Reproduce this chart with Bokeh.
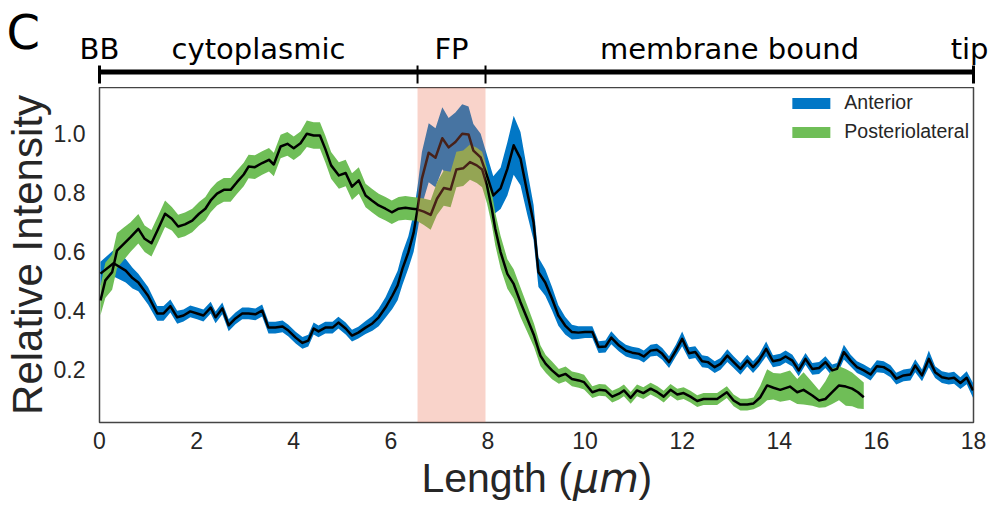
from bokeh.plotting import figure
from bokeh.models import (Range1d, BoxAnnotation, Legend, LegendItem,
                          FixedTicker, NumeralTickFormatter)
from bokeh.embed import file_html
from bokeh.resources import INLINE
from bokeh.core.properties import value

# ---------------- data ----------------
anterior_x = [0.02, 0.29, 0.54, 0.68, 0.80, 1.00, 1.19, 1.32, 1.46, 1.60, 1.73, 1.87, 2.01, 2.14,
              2.29, 2.39, 2.53, 2.66, 2.80, 2.94, 3.07, 3.21, 3.35, 3.48, 3.62, 3.77, 3.89, 4.04,
              4.18, 4.30, 4.41, 4.51, 4.65, 4.80, 4.92, 5.07, 5.20, 5.33, 5.48, 5.62, 5.75, 5.89,
              6.03, 6.14, 6.24, 6.36, 6.47, 6.55, 6.64, 6.78, 6.92, 7.06, 7.19, 7.33, 7.47, 7.60,
              7.70, 7.85, 7.98, 8.11, 8.26, 8.40, 8.53, 8.67, 8.81, 8.94, 9.04, 9.18, 9.32, 9.45,
              9.59, 9.73, 9.86, 10.00, 10.15, 10.28, 10.42, 10.54, 10.70, 10.84, 10.97, 11.11,
              11.21, 11.35, 11.48, 11.59, 11.73, 11.87, 12.00, 12.14, 12.27, 12.41, 12.53, 12.67,
              12.79, 12.93, 13.06, 13.20, 13.34, 13.46, 13.58, 13.73, 13.87, 14.02, 14.13, 14.27,
              14.40, 14.54, 14.68, 14.82, 14.95, 15.09, 15.19, 15.33, 15.47, 15.60, 15.74, 15.88,
              16.01, 16.15, 16.29, 16.41, 16.56, 16.70, 16.80, 16.94, 17.08, 17.21, 17.35, 17.49,
              17.60, 17.73, 17.86, 17.99]
anterior_mean = [0.525, 0.56, 0.535, 0.51, 0.495, 0.45, 0.39, 0.39, 0.415, 0.377, 0.383, 0.397, 0.39, 0.383,
                 0.41, 0.377, 0.407, 0.35, 0.373, 0.39, 0.39, 0.387, 0.40, 0.342, 0.342, 0.346, 0.332, 0.308,
                 0.29, 0.298, 0.339, 0.329, 0.342, 0.342, 0.359, 0.339, 0.315, 0.325, 0.342, 0.356, 0.377, 0.41,
                 0.45, 0.485, 0.542, 0.597, 0.664, 0.745, 0.847, 0.935, 0.918, 0.984, 0.953, 0.971, 0.999, 0.997,
                 0.942, 0.919, 0.857, 0.79, 0.814, 0.88, 0.96, 0.915, 0.80, 0.698, 0.53, 0.495, 0.44, 0.383,
                 0.349, 0.327, 0.325, 0.327, 0.327, 0.276, 0.278, 0.308, 0.281, 0.264, 0.257, 0.253,
                 0.244, 0.264, 0.267, 0.253, 0.225, 0.264, 0.304, 0.255, 0.259, 0.228, 0.225, 0.208,
                 0.219, 0.247, 0.225, 0.202, 0.23, 0.208, 0.23, 0.27, 0.228, 0.233, 0.244, 0.23,
                 0.197, 0.236, 0.202, 0.205, 0.225, 0.197, 0.202, 0.259, 0.23, 0.208, 0.197, 0.183,
                 0.211, 0.208, 0.194, 0.169, 0.18, 0.183, 0.213, 0.18, 0.236, 0.191, 0.174, 0.169,
                 0.172, 0.154, 0.172, 0.129]
anterior_err = [0.04, 0.045, 0.04, 0.035, 0.03, 0.03, 0.025, 0.025, 0.022, 0.022, 0.02, 0.02, 0.02, 0.02,
                0.02, 0.02, 0.02, 0.02, 0.02, 0.02, 0.02, 0.02, 0.02, 0.02, 0.02, 0.02, 0.02, 0.02,
                0.02, 0.02, 0.02, 0.02, 0.02, 0.02, 0.02, 0.02, 0.02, 0.02, 0.022, 0.025, 0.03, 0.035,
                0.045, 0.05, 0.055, 0.055, 0.065, 0.075, 0.09, 0.10, 0.10, 0.105, 0.10, 0.10, 0.10, 0.095,
                0.09, 0.08, 0.07, 0.065, 0.07, 0.09, 0.10, 0.09, 0.075, 0.06, 0.05, 0.045, 0.04, 0.035,
                0.03, 0.025, 0.022, 0.02, 0.02, 0.02, 0.02, 0.022, 0.02, 0.02, 0.02, 0.02,
                0.02, 0.02, 0.02, 0.02, 0.02, 0.02, 0.025, 0.02, 0.02, 0.02, 0.02, 0.02,
                0.02, 0.022, 0.02, 0.02, 0.02, 0.02, 0.02, 0.025, 0.02, 0.02, 0.02, 0.02,
                0.02, 0.02, 0.02, 0.02, 0.02, 0.02, 0.02, 0.025, 0.02, 0.02, 0.02, 0.02,
                0.02, 0.02, 0.02, 0.02, 0.02, 0.02, 0.022, 0.02, 0.028, 0.02, 0.02, 0.02,
                0.02, 0.02, 0.022, 0.025]

post_x = [0.02, 0.12, 0.26, 0.36, 0.50, 0.64, 0.80, 0.93, 1.07, 1.21, 1.35, 1.49, 1.62, 1.76, 1.91,
          2.05, 2.18, 2.29, 2.42, 2.56, 2.70, 2.83, 2.97, 3.07, 3.20, 3.35, 3.49, 3.59, 3.73, 3.87,
          4.00, 4.14, 4.27, 4.41, 4.54, 4.65, 4.77, 4.93, 5.07, 5.20, 5.34, 5.48, 5.61, 5.75, 5.89,
          6.02, 6.16, 6.30, 6.44, 6.54, 6.68, 6.82, 6.95, 7.09, 7.23, 7.35, 7.49, 7.63, 7.77, 7.88,
          7.98, 8.08, 8.15, 8.26, 8.40, 8.53, 8.67, 8.81, 8.95, 9.08, 9.19, 9.32, 9.46, 9.60, 9.73,
          9.87, 9.98, 10.15, 10.29, 10.42, 10.56, 10.70, 10.80, 10.94, 11.07, 11.20, 11.35, 11.49,
          11.62, 11.76, 11.90, 12.03, 12.17, 12.31, 12.44, 12.58, 12.72, 12.92, 13.06, 13.20, 13.34,
          13.47, 13.61, 13.75, 13.88, 14.02, 14.22, 14.37, 14.50, 14.68, 14.82, 14.95, 15.09, 15.23,
          15.37, 15.50, 15.62, 15.74]
post_mean = [0.434, 0.502, 0.53, 0.603, 0.626, 0.649, 0.677, 0.643, 0.628, 0.677, 0.728, 0.711, 0.685, 0.692, 0.705,
             0.728, 0.745, 0.773, 0.796, 0.809, 0.809, 0.835, 0.861, 0.888, 0.886, 0.900, 0.911, 0.895, 0.956, 0.965,
             0.95, 0.967, 0.999, 0.993, 0.993, 0.948, 0.892, 0.858, 0.866, 0.82, 0.841, 0.79, 0.773, 0.756, 0.745,
             0.733, 0.745, 0.748, 0.745, 0.743, 0.735, 0.724, 0.779, 0.815, 0.81, 0.878, 0.882, 0.903, 0.892, 0.878,
             0.824, 0.745, 0.677, 0.598, 0.524, 0.49, 0.428, 0.372, 0.315, 0.247, 0.219, 0.197, 0.177, 0.185, 0.168,
             0.163, 0.157, 0.123, 0.131, 0.129, 0.108, 0.118, 0.129, 0.104, 0.129, 0.12, 0.135, 0.123,
             0.108, 0.131, 0.115, 0.12, 0.108, 0.093, 0.10, 0.10, 0.10, 0.123, 0.095, 0.081, 0.081,
             0.085, 0.106, 0.146, 0.138, 0.131, 0.142, 0.123, 0.131, 0.112, 0.095, 0.10, 0.123, 0.146,
             0.142, 0.135, 0.123, 0.106]
post_err_up = [0.05, 0.06, 0.06, 0.06, 0.055, 0.05, 0.05, 0.045, 0.045, 0.045, 0.045, 0.04, 0.04, 0.04, 0.04,
               0.04, 0.04, 0.04, 0.04, 0.04, 0.04, 0.04, 0.04, 0.04, 0.04, 0.04, 0.04, 0.04, 0.04, 0.04,
               0.04, 0.04, 0.045, 0.045, 0.045, 0.045, 0.045, 0.045, 0.045, 0.045, 0.045, 0.04, 0.04, 0.04, 0.04,
               0.04, 0.04, 0.04, 0.04, 0.04, 0.045, 0.05, 0.055, 0.06, 0.06, 0.06, 0.06, 0.06, 0.06, 0.06,
               0.06, 0.055, 0.055, 0.055, 0.05, 0.05, 0.05, 0.045, 0.04, 0.035, 0.03, 0.03, 0.025, 0.025, 0.025,
               0.025, 0.025, 0.02, 0.02, 0.02, 0.02, 0.02, 0.02, 0.02, 0.02, 0.02, 0.02, 0.02,
               0.02, 0.02, 0.02, 0.02, 0.02, 0.02, 0.02, 0.02, 0.02, 0.02, 0.02, 0.02, 0.02,
               0.02, 0.04, 0.055, 0.05, 0.055, 0.055, 0.045, 0.06, 0.045, 0.035, 0.06, 0.08, 0.065,
               0.06, 0.055, 0.05, 0.05]
post_err_dn = [0.05, 0.06, 0.06, 0.06, 0.055, 0.05, 0.05, 0.045, 0.045, 0.045, 0.045, 0.04, 0.04, 0.04, 0.04,
               0.04, 0.04, 0.04, 0.04, 0.04, 0.04, 0.04, 0.04, 0.04, 0.04, 0.04, 0.04, 0.04, 0.04, 0.04,
               0.04, 0.04, 0.045, 0.045, 0.045, 0.045, 0.045, 0.045, 0.045, 0.045, 0.045, 0.04, 0.04, 0.04, 0.04,
               0.04, 0.04, 0.04, 0.04, 0.04, 0.045, 0.05, 0.055, 0.06, 0.06, 0.06, 0.06, 0.06, 0.06, 0.06,
               0.06, 0.055, 0.055, 0.055, 0.05, 0.05, 0.05, 0.045, 0.04, 0.035, 0.03, 0.03, 0.025, 0.025, 0.025,
               0.025, 0.025, 0.02, 0.02, 0.02, 0.02, 0.02, 0.02, 0.02, 0.02, 0.02, 0.02, 0.02,
               0.02, 0.02, 0.02, 0.02, 0.02, 0.02, 0.02, 0.02, 0.02, 0.02, 0.02, 0.02, 0.02,
               0.02, 0.03, 0.05, 0.04, 0.04, 0.045, 0.04, 0.05, 0.035, 0.025, 0.028, 0.04, 0.05,
               0.065, 0.06, 0.055, 0.04]

series_names = ["Anterior", "Posteriolateral"]
x_ticks = [0, 2, 4, 6, 8, 10, 12, 14, 16, 18]
y_ticks = [0.2, 0.4, 0.6, 0.8, 1.0]
region_edges = [0.0, 6.55, 7.95, 18.0]
region_names = ["cytoplasmic", "FP", "membrane bound"]
end_names = ["BB", "tip"]
panel_letter = "C"
fp_start, fp_end = 6.55, 7.95
x_label_parts = ["Length (", "\u03bcm", ")"]
y_label = "Relative Intensity"

# ---------------- layout / style ----------------
BLUE = "#0177c6"
GREEN = "#6fbe57"
PINK = "#eb6c4e"
TXT = "#262626"
W = 989
FL, FR = 99, 16
FRAME_W = W - FL - FR
X0, X1 = 0.0, 18.0
K = FRAME_W / (X1 - X0)
TOP_H = 87
MAIN_H = 365
MB = 30
LAB_H = 58


def strip(height):
    f = figure(width=W, height=height,
               x_range=Range1d(X0 - FL / K, X0 + (W - FL) / K),
               y_range=Range1d(0, height), output_backend="svg", toolbar_location=None,
               x_axis_location=None, y_axis_location=None,
               min_border_left=0, min_border_right=0, min_border_top=0, min_border_bottom=0)
    f.grid.visible = False
    f.outline_line_color = None
    return f


# ---------------- top annotation strip ----------------
t = strip(TOP_H)
t.segment(x0=[region_edges[0]], x1=[region_edges[-1]], y0=[15.5], y1=[15.5],
          line_width=5, line_color="black", line_cap="butt")
tick_w = [3 if i in (0, len(region_edges) - 1) else 2 for i in range(len(region_edges))]
t.segment(x0=region_edges, x1=region_edges, y0=[4] * len(region_edges), y1=[22] * len(region_edges),
          line_width=tick_w, line_color="black")
mids = [(region_edges[i] + region_edges[i + 1]) / 2 for i in range(len(region_names))]
t.text(x=mids, y=[39] * len(mids), text=region_names, text_align="center",
       text_baseline="alphabetic", text_font=value("DejaVu Sans"), text_font_size="29px",
       text_color="black")
t.text(x=[region_edges[0]], y=[39], text=[end_names[0]], text_align="center",
       text_baseline="alphabetic", text_font=value("DejaVu Sans"), text_font_size="29px",
       text_color="black")
t.text(x=[region_edges[-1]], y=[39], text=[end_names[1]], text_align="right", x_offset=15,
       text_baseline="alphabetic", text_font=value("DejaVu Sans"), text_font_size="29px",
       text_color="black")
t.text(x=[X0 - 93 / K], y=[56], text=[panel_letter], text_align="left", text_baseline="alphabetic",
       text_font=value("DejaVu Sans"), text_font_size="48px", text_color="black")

# ---------------- main plot ----------------
p = figure(width=W, height=MAIN_H, x_range=Range1d(X0, X1), y_range=Range1d(0.0203, 1.156),
           output_backend="svg", toolbar_location=None,
           min_border_left=FL, min_border_right=FR, min_border_top=0, min_border_bottom=MB)
p.grid.visible = False
p.outline_line_color = "#444444"
p.outline_line_width = 1.5

p.xaxis.ticker = FixedTicker(ticks=x_ticks)
p.yaxis.ticker = FixedTicker(ticks=y_ticks)
p.yaxis.formatter = NumeralTickFormatter(format="0.0")
for ax in (p.xaxis, p.yaxis):
    ax.axis_line_color = None
    ax.major_tick_line_color = None
    ax.minor_tick_line_color = None
    ax.major_label_text_font = "Liberation Sans"
    ax.major_label_text_font_size = "23px"
    ax.major_label_text_color = TXT
p.xaxis.major_label_standoff = 3
p.yaxis.major_label_standoff = 8
p.yaxis.axis_label = y_label
p.yaxis.axis_label_text_font = "Liberation Sans"
p.yaxis.axis_label_text_font_size = "42px"
p.yaxis.axis_label_text_font_style = "normal"
p.yaxis.axis_label_text_color = TXT
p.yaxis.axis_label_standoff = 0

a_lo = [m - e for m, e in zip(anterior_mean, anterior_err)]
a_hi = [m + e for m, e in zip(anterior_mean, anterior_err)]
b_lo = [m - e for m, e in zip(post_mean, post_err_dn)]
b_hi = [m + e for m, e in zip(post_mean, post_err_up)]
p.varea(x=anterior_x, y1=a_lo, y2=a_hi, fill_color=BLUE)
p.varea(x=post_x, y1=b_lo, y2=b_hi, fill_color=GREEN)
p.line(anterior_x, anterior_mean, line_color="black", line_width=2.5, line_join="round")
p.line(post_x, post_mean, line_color="black", line_width=2.5, line_join="round")

p.add_layout(BoxAnnotation(left=fp_start, right=fp_end, fill_color=PINK, fill_alpha=0.3,
                           line_color=None))

nan = float("nan")
la = p.line(x=[nan, nan], y=[nan, nan], line_color=BLUE, line_width=11, line_cap="round")
lb = p.line(x=[nan, nan], y=[nan, nan], line_color=GREEN, line_width=11, line_cap="round")
legend = Legend(items=[LegendItem(label=series_names[0], renderers=[la]),
                       LegendItem(label=series_names[1], renderers=[lb])],
                location="top_right", border_line_color=None, background_fill_alpha=0,
                label_text_font="Liberation Sans", label_text_font_size="19.5px",
                label_text_color=TXT, glyph_width=38, glyph_height=20, label_height=20,
                label_standoff=14, spacing=6, padding=5, margin=4)
p.add_layout(legend)

# ---------------- x-axis label strip (italic unit) ----------------
xl = strip(LAB_H)
XC = (X0 + X1) / 2
xl.text(x=[XC], y=[33], text=[x_label_parts[0]], x_offset=35.4, text_align="right",
        text_baseline="alphabetic", text_font=value("Liberation Sans"), text_font_size="41px",
        text_color=TXT)
xl.text(x=[XC], y=[33], text=[x_label_parts[1]], x_offset=36.4, text_align="left",
        text_baseline="alphabetic", text_font=value("DejaVu Sans"), text_font_style="italic",
        text_font_size="41px", text_color=TXT)
xl.text(x=[XC], y=[33], text=[x_label_parts[2]], x_offset=102.0, text_align="left",
        text_baseline="alphabetic", text_font=value("Liberation Sans"), text_font_size="41px",
        text_color=TXT)

open("out.html", "w").write(file_html([t, p, xl], INLINE))
